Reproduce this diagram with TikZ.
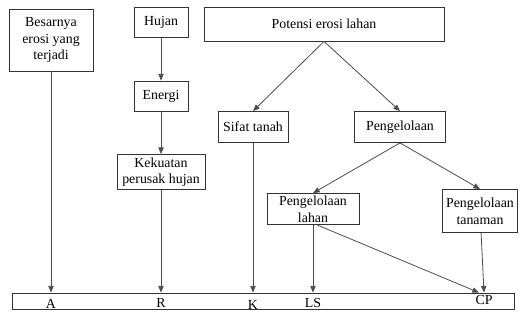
\documentclass[tikz,border=0pt]{standalone}
\usepackage{fontspec}
\setmainfont{Liberation Serif}
\usetikzlibrary{arrows.meta, positioning, calc}

\begin{document}
\begin{tikzpicture}[x=0.75pt, y=-0.75pt, font=\fontsize{10.4}{12.4}\selectfont,
  box/.style={draw=black!80, line width=0.6pt, align=center, inner sep=1pt},
  arr/.style={-{Triangle[length=5pt, width=4pt]}, black!70, line width=0.6pt}
]
\useasboundingbox (0,0) rectangle (524,320);

\node[box, minimum width=63pt, minimum height=46.5pt] (bes) at (51,40) {Besarnya\\erosi yang\\terjadi};
\node[box, minimum width=40.5pt, minimum height=22.5pt] (hujan) at (161,22) {Hujan};
\node[box, minimum width=40.5pt, minimum height=22.5pt] (energi) at (161,96) {Energi};
\node[box, minimum width=66pt, minimum height=26.25pt] (kek) at (161,172) {Kekuatan\\perusak hujan};
\node[box, minimum width=180pt, minimum height=25.5pt] (pot) at (324,24) {Potensi erosi lahan};
\node[box, minimum width=52.5pt, minimum height=23.25pt] (sifat) at (253,127) {Sifat tanah};
\node[box, minimum width=68.25pt, minimum height=23.25pt] (peng) at (400,127) {Pengelolaan};
\node[box, minimum width=69pt, minimum height=23.25pt] (plahan) at (313,209) {Pengelolaan\\lahan};
\node[box, minimum width=56.25pt, minimum height=32.25pt] (ptanam) at (480,211) {Pengelolaan\\tanaman};

% faktor erosi
\node[box, minimum width=376.5pt, minimum height=12pt] (bar) at (263,301) {};
\node (fa)  at (51,304)  {A};
\node (fr)  at (161,303) {R};
\node (fk)  at (253,305) {K};
\node (fls) at (313,303) {LS};
\node (fcp) at (484,300) {CP};
\coordinate (cpin) at ($(fcp |- bar.north)+(-5,0)$);

\draw[arr] (bes) -- (fa |- bar.north);
\draw[arr] (hujan) -- (energi);
\draw[arr] (energi) -- (kek);
\draw[arr] (kek) -- (fr |- bar.north);
\draw[arr] (pot.south) -- (sifat.north);
\draw[arr] (pot.south) -- (peng.north);
\draw[arr] (sifat) -- (fk |- bar.north);
\draw[arr] (peng.south) -- (plahan.north);
\draw[arr] (peng.south) -- (ptanam.north);
\draw[arr] (plahan) -- (fls |- bar.north);
\draw[arr] ([xshift=3pt]plahan.south) -- (cpin);
\draw[arr] (ptanam) -- (fcp |- bar.north);
\end{tikzpicture}
\end{document}
